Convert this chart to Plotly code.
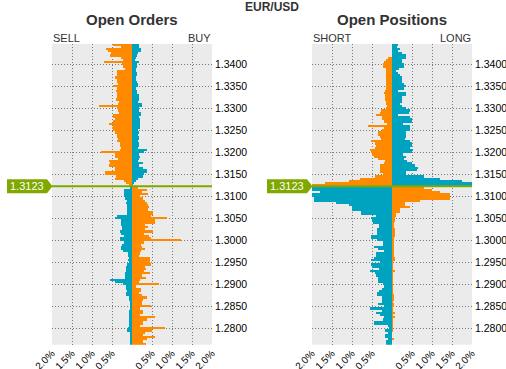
import plotly.graph_objects as go

# ---------------- data ----------------
current_price = 1.3123
level_top = 1.3445
level_step = 0.0005
n_levels = 137
price_levels = [round(level_top - level_step * i, 4) for i in range(n_levels)]

# Open orders: % of orders on the SELL side (left) and BUY side (right)
orders_sell = [
    0.47, 0.27, 0.65, 0.61, 0.53, 0.55, 0.28, 0.23, 0.69, 0.25,
    0.23, 0.17, 0.37, 0.37, 0.37, 0.42, 0.37, 0.37, 0.35, 0.47,
    0.37, 0.40, 0.38, 0.38, 0.37, 0.40, 0.33, 0.35, 0.82, 0.37,
    0.35, 0.33, 0.47, 0.47, 0.42, 0.48, 0.57, 0.48, 0.50, 0.47,
    0.43, 0.38, 0.38, 0.35, 0.37, 0.30, 0.30, 0.28, 0.30, 0.77,
    0.43, 0.43, 0.35, 0.57, 0.55, 0.57, 0.43, 0.43, 0.67, 0.67,
    0.40, 0.42, 0.20, 0.15, 0.08,
    0.05, 0.20, 0.20, 0.20, 0.20, 0.18, 0.13, 0.15, 0.13, 0.13,
    0.12, 0.13, 0.13, 0.38, 0.43, 0.28, 0.28, 0.27, 0.25, 0.25,
    0.30, 0.27, 0.20, 0.30, 0.30, 0.20, 0.25, 0.27, 0.27, 0.22,
    0.10, 0.10, 0.07, 0.10, 0.08, 0.13, 0.15, 0.15, 0.15, 0.17,
    0.17, 0.17, 0.55, 0.43, 0.22, 0.15, 0.15, 0.13, 0.15, 0.15,
    0.07, 0.07, 0.05, 0.05, 0.05, 0.05, 0.08, 0.08, 0.08, 0.08,
    0.07, 0.07, 0.07, 0.07, 0.10, 0.12, 0.05, 0.05, 0.05, 0.05,
    0.05, 0.03,
]
orders_buy = [
    0.18, 0.18, 0.23, 0.23, 0.14, 0.13, 0.10, 0.08, 0.18, 0.13,
    0.12, 0.10, 0.10, 0.12, 0.13, 0.10, 0.10, 0.12, 0.15, 0.15,
    0.10, 0.12, 0.12, 0.18, 0.17, 0.18, 0.15, 0.25, 0.25, 0.18,
    0.18, 0.22, 0.23, 0.18, 0.20, 0.20, 0.20, 0.20, 0.20, 0.15,
    0.17, 0.15, 0.18, 0.17, 0.15, 0.18, 0.17, 0.14, 0.37, 0.31,
    0.18, 0.20, 0.17, 0.14, 0.27, 0.18, 0.28, 0.37, 0.37, 0.31,
    0.28, 0.14, 0.10, 0.03, 0.02,
    0.16, 0.37, 0.25, 0.40, 0.20, 0.27, 0.33, 0.37, 0.40, 0.43,
    0.40, 0.52, 0.52, 0.48, 0.87, 0.57, 0.57, 0.33, 0.40, 0.33,
    0.53, 0.30, 0.43, 0.48, 1.23, 0.30, 0.23, 0.25, 0.33, 0.22,
    0.20, 0.18, 0.45, 0.45, 0.45, 0.48, 0.33, 0.35, 0.30, 0.45,
    0.25, 0.35, 0.20, 0.18, 0.68, 0.10, 0.22, 0.22, 0.18, 0.25,
    0.38, 0.27, 0.25, 0.25, 0.48, 0.20, 0.27, 0.27, 0.20, 0.57,
    0.37, 0.27, 0.27, 0.20, 0.83, 0.50, 0.33, 0.27, 0.58, 0.37,
    0.27, 0.35,
]

# Open positions: % SHORT (left) and LONG (right)
positions_short = [
    0.00, 0.00, 0.00, 0.00, 0.00, 0.00, 0.11, 0.16, 0.21, 0.23,
    0.23, 0.14, 0.16, 0.16, 0.16, 0.16, 0.16, 0.14, 0.16, 0.16,
    0.14, 0.18, 0.19, 0.18, 0.18, 0.18, 0.16, 0.14, 0.13, 0.14,
    0.28, 0.29, 0.39, 0.26, 0.24, 0.21, 0.13, 0.61, 0.21, 0.24,
    0.36, 0.34, 0.29, 0.28, 0.53, 0.43, 0.41, 0.43, 0.54, 0.53,
    0.51, 0.44, 0.34, 0.18, 0.21, 0.31, 0.31, 0.31, 0.31, 0.23,
    0.43, 0.81, 1.08, 1.68, 2.30,
    2.40, 2.40, 1.80, 2.10, 2.00, 1.96, 1.96, 1.39, 1.08, 1.00,
    0.99, 0.78, 0.78, 0.40, 0.52, 0.50, 0.48, 0.33, 0.33, 0.38,
    0.38, 0.38, 0.53, 0.53, 0.38, 0.23, 0.23, 0.44, 0.36, 0.20,
    0.41, 0.41, 0.44, 0.53, 0.30, 0.52, 0.50, 0.33, 0.56, 0.43,
    0.40, 0.36, 0.34, 0.34, 0.22, 0.20, 0.25, 0.33, 0.38, 0.38,
    0.25, 0.25, 0.24, 0.36, 0.20, 0.56, 0.24, 0.41, 0.31, 0.20,
    0.22, 0.45, 0.45, 0.10, 0.08, 0.17, 0.10, 0.18, 0.18, 0.09,
    0.16, 0.15,
]
positions_long = [
    0.16, 0.13, 0.19, 0.16, 0.24, 0.36, 0.36, 0.26, 0.26, 0.29,
    0.31, 0.18, 0.09, 0.14, 0.19, 0.26, 0.26, 0.26, 0.31, 0.36,
    0.31, 0.16, 0.34, 0.34, 0.26, 0.24, 0.26, 0.19, 0.26, 0.36,
    0.44, 0.43, 0.14, 0.44, 0.51, 0.49, 0.28, 0.46, 0.44, 0.44,
    0.36, 0.34, 0.36, 0.33, 0.46, 0.49, 0.51, 0.46, 0.53, 0.49,
    0.28, 0.36, 0.29, 0.38, 0.49, 0.58, 0.66, 0.63, 0.36, 0.36,
    0.79, 1.21, 1.76, 2.30, 2.40,
    0.79, 1.00, 1.19, 1.44, 1.44, 1.44, 0.69, 0.32, 0.32, 0.44,
    0.19, 0.19, 0.09, 0.09, 0.08, 0.08, 0.06, 0.06, 0.06, 0.08,
    0.08, 0.08, 0.08, 0.05, 0.04, 0.04, 0.06, 0.05, 0.04, 0.03,
    0.03, 0.03, 0.08, 0.08, 0.02, 0.02, 0.02, 0.02, 0.08, 0.02,
    0.02, 0.02, 0.02, 0.01, 0.01, 0.01, 0.02, 0.02, 0.01, 0.03,
    0.03, 0.03, 0.01, 0.03, 0.03, 0.01, 0.01, 0.08, 0.02, 0.08,
    0.01, 0.01, 0.01, 0.02, 0.01, 0.01, 0.00, 0.00, 0.00, 0.03,
    0.00, 0.00,
]

x_tick_vals = [-2.0, -1.5, -1.0, -0.5, 0.5, 1.0, 1.5, 2.0]
x_tick_text = ["2.0%", "1.5%", "1.0%", "0.5%", "0.5%", "1.0%", "1.5%", "2.0%"]
y_tick_vals = [1.28, 1.285, 1.29, 1.295, 1.30, 1.305, 1.31, 1.315, 1.32, 1.325, 1.33, 1.335, 1.34]
y_tick_text = ["%.4f" % v for v in y_tick_vals]

# ---------------- style ----------------
ORANGE = "#FF8A00"
TEAL = "#00A3BF"
GREEN = "#7FA800"
FONT = "Liberation Sans, Arial, sans-serif"
W, H = 506, 369

above = [p > current_price for p in price_levels]
left_colors = [ORANGE if a else TEAL for a in above]
right_colors = [TEAL if a else ORANGE for a in above]

fig = go.Figure()


def add_panel(left_vals, right_vals, xa, ya):
    fig.add_trace(go.Bar(
        y=price_levels, x=[-v for v in left_vals], orientation="h",
        width=level_step, marker=dict(color=left_colors, line=dict(width=0)),
        xaxis=xa, yaxis=ya, hoverinfo="skip", showlegend=False))
    fig.add_trace(go.Bar(
        y=price_levels, x=right_vals, orientation="h",
        width=level_step, marker=dict(color=right_colors, line=dict(width=0)),
        xaxis=xa, yaxis=ya, hoverinfo="skip", showlegend=False))


add_panel(orders_sell, orders_buy, "x", "y")
add_panel(positions_short, positions_long, "x2", "y2")

y_bottom, y_top = 344.7, 44.0
y_range = [1.27627, 1.34461]
ydom = [(H - y_bottom) / H, (H - y_top) / H]

axis_common_x = dict(
    range=[-2, 2], tickvals=x_tick_vals, ticktext=x_tick_text, tickangle=-45,
    showgrid=True, gridcolor="#7a7a7a", gridwidth=1, griddash="1px,2px",
    zeroline=False, showline=False, ticks="", fixedrange=True, automargin=False,
    tickfont=dict(family=FONT, size=10, color="#000"),
)
axis_common_y = dict(
    range=y_range, tickvals=y_tick_vals, ticktext=y_tick_text, side="right",
    showgrid=True, gridcolor="#7a7a7a", gridwidth=1, griddash="1px,2px",
    zeroline=False, showline=False, ticks="", fixedrange=True, automargin=False,
    ticklabelstandoff=2,
    tickfont=dict(family=FONT, size=10.5, color="#000"),
)

fig.update_layout(
    width=W, height=H, margin=dict(l=0, r=0, t=0, b=0, autoexpand=False),
    paper_bgcolor="white", plot_bgcolor="#EBEBEB",
    barmode="overlay", bargap=0,
    xaxis=dict(domain=[52 / W, 212 / W], anchor="y", **axis_common_x),
    yaxis=dict(domain=ydom, anchor="x", **axis_common_y),
    xaxis2=dict(domain=[312 / W, 472 / W], anchor="y2", **axis_common_x),
    yaxis2=dict(domain=ydom, anchor="x2", **axis_common_y),
    font=dict(family=FONT),
)

shapes = []
annotations = []
tag_half = 7 / ((y_bottom - y_top) / (y_range[1] - y_range[0]))
for xa, ya, left_px in (("x", "y", 52), ("x2", "y2", 312)):
    shapes.append(dict(type="line", xref=xa + " domain", yref=ya, x0=0, x1=1,
                       y0=current_price, y1=current_price,
                       line=dict(color=GREEN, width=2), layer="above"))
    x0 = (left_px - 45) / W
    xb = (left_px - 5) / W
    xt = (left_px + 0.5) / W
    path = "M %f,%f L %f,%f L %f,%f L %f,%f L %f,%f Z" % (
        x0, current_price - tag_half, xb, current_price - tag_half,
        xt, current_price, xb, current_price + tag_half,
        x0, current_price + tag_half)
    shapes.append(dict(type="path", xref="paper", yref=ya, path=path,
                       fillcolor=GREEN, line=dict(width=0), layer="above"))
    annotations.append(dict(xref="paper", yref=ya, x=(left_px - 25) / W, y=current_price,
                            text="%.4f" % current_price, showarrow=False,
                            font=dict(family=FONT, size=11, color="white"),
                            xanchor="center", yanchor="middle"))


def paper_text(text, x_px, y_px, size, bold=False, anchor="center", color="#333"):
    annotations.append(dict(
        xref="paper", yref="paper", x=x_px / W, y=1 - y_px / H,
        text="<b>%s</b>" % text if bold else text, showarrow=False,
        xanchor=anchor, yanchor="middle",
        font=dict(family=FONT, size=size, color=color)))


paper_text("EUR/USD", 272, 7, 12, bold=True)
paper_text("Open Orders", 132, 20, 15, bold=True)
paper_text("Open Positions", 392, 20, 15, bold=True)
paper_text("SELL", 51, 38, 11, anchor="left")
paper_text("BUY", 213, 38, 11, anchor="right")
paper_text("SHORT", 311, 38, 11, anchor="left")
paper_text("LONG", 473, 38, 11, anchor="right")

fig.update_layout(shapes=shapes, annotations=annotations)
fig.write_html("out.html", config={"displayModeBar": False},
               post_script="document.body.style.margin='0';document.body.style.overflow='hidden';")
